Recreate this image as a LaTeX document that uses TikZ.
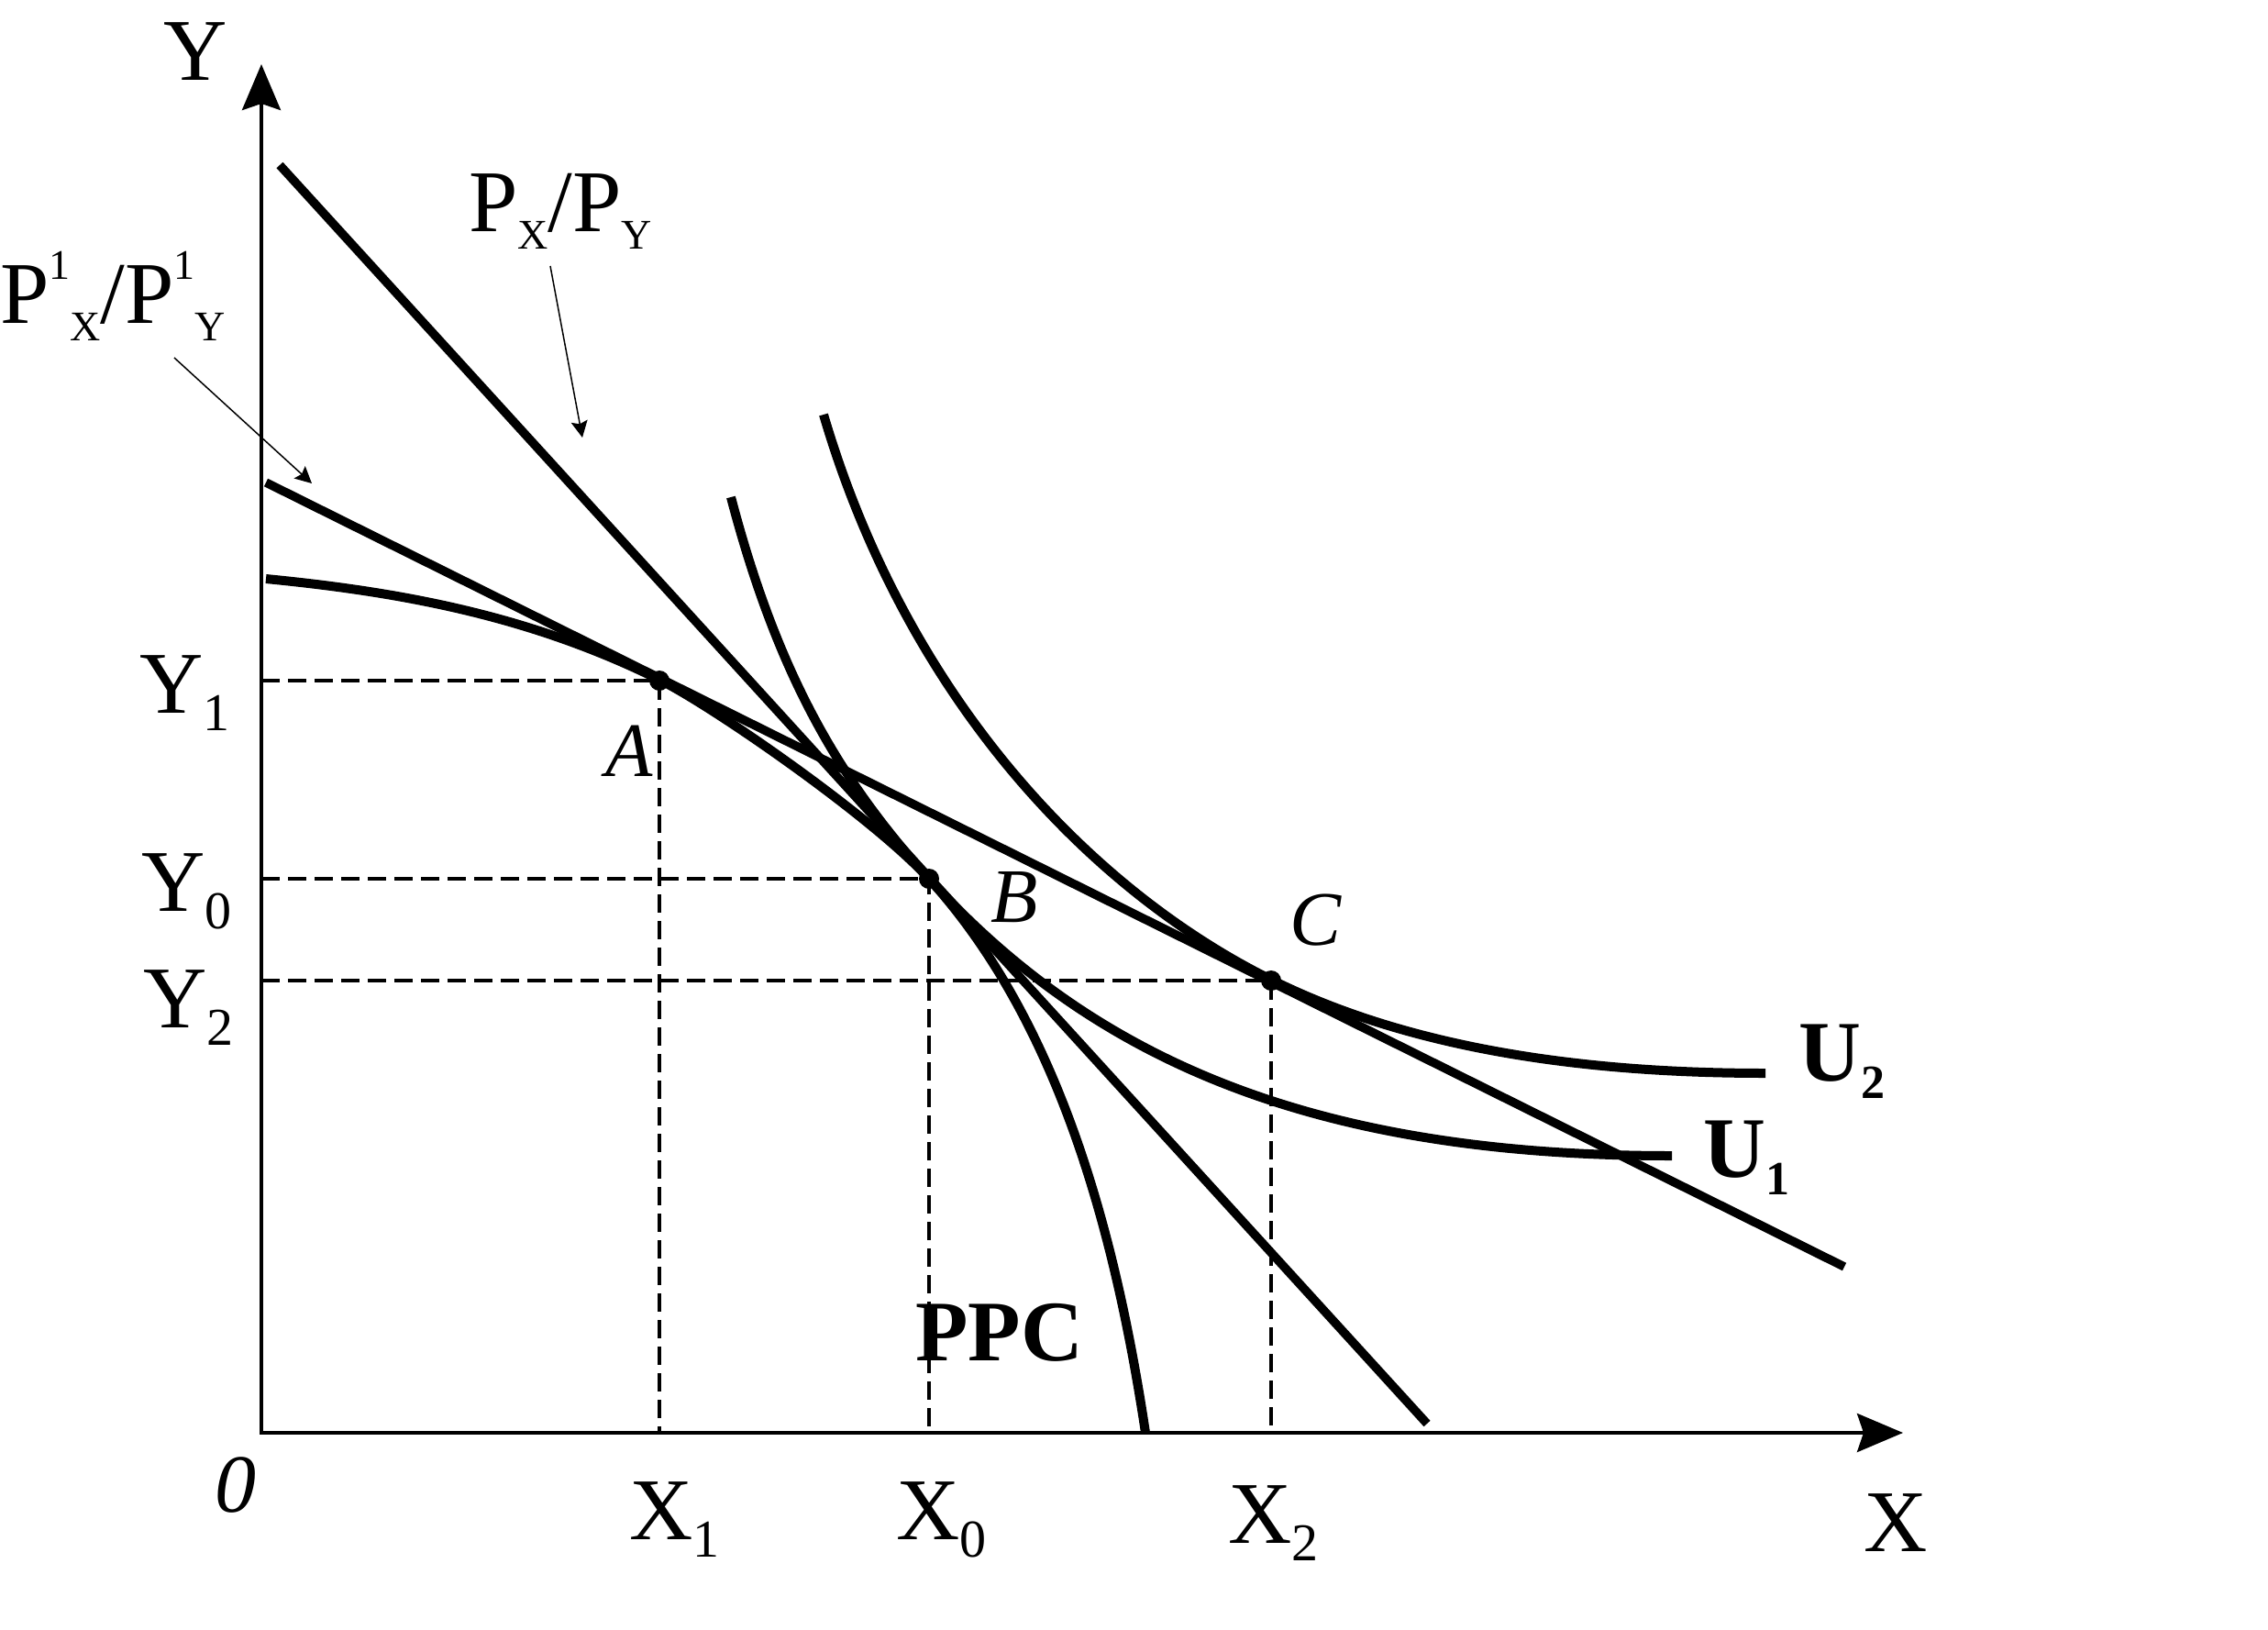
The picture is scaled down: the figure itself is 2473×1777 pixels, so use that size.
\documentclass[tikz,border=0pt]{standalone}
\usepackage{fontspec}
\setmainfont{Liberation Serif}
\usetikzlibrary{arrows.meta}
\newcommand\lsub[2][58]{\raisebox{-19pt}{\fontsize{#1}{#1}\selectfont #2}}
\newcommand\lsup[2][46]{\raisebox{48pt}{\fontsize{#1}{#1}\selectfont #2}}
\begin{document}
\begin{tikzpicture}[x=1pt,y=-1pt,
  curve/.style={line width=10pt},
  budget/.style={line width=9.5pt},
  dashline/.style={line width=4.5pt, dash pattern=on 20pt off 9pt},
  axisline/.style={line width=4pt, {Stealth[length=50pt,width=42pt,inset=7pt]}-{Stealth[length=50pt,width=42pt,inset=7pt]}},
  leader/.style={line width=1.5pt, -{Stealth[length=18pt,width=18pt,inset=3pt]}},
  dot/.style={circle, fill=black, inner sep=0pt, minimum size=22pt},
  lab/.style={inner sep=0pt, font=\fontsize{96}{96}\selectfont},
  blab/.style={inner sep=0pt, font=\fontsize{94}{94}\selectfont\bfseries},
  ilab/.style={inner sep=0pt, font=\fontsize{84}{84}\selectfont\itshape}]
\useasboundingbox (0,0) rectangle (2473,1777);

% axes
\coordinate (O) at (285,1562);
\coordinate (Ytip) at (285,70);
\coordinate (Xtip) at (2075,1562);
\draw[axisline] (Ytip) -- (O) -- (Xtip);

% points
\node[dot] (A) at (719,742) {};
\node[dot] (B) at (1013,958) {};
\node[dot] (C) at (1386,1069) {};

% dashed guides
\draw[dashline] (A -| O) -- (A.center) -- (A |- O);
\draw[dashline] (B -| O) -- (B.center) -- (B |- O);
\draw[dashline] (C -| O) -- (C.center) -- ([yshift=5pt]C |- O);

% budget lines
\coordinate (L1s) at (305,180);
\coordinate (L1e) at (1556,1552);
\coordinate (L2s) at (290,526);
\coordinate (L2e) at (2011,1381);
\draw[budget] (L1s) -- (L1e);
\draw[budget] (L2s) -- (L2e);

% PPC
\draw[curve] (290,631) .. controls (433,645) and (576,670) .. (719,741)
  .. controls (779,771) and (953,892) .. (1013,958)
  .. controls (1143,1101) and (1211.5,1312) .. (1249,1562);

% U1
\draw[curve] (797,542) .. controls (847,732) and (913,848) .. (1013,958)
  .. controls (1188,1150) and (1423,1260) .. (1823,1260);

% U2
\draw[curve] (898,452) .. controls (988,758) and (1186,968.6) .. (1386,1068)
  .. controls (1506,1127.6) and (1675,1170) .. (1925,1170);

% leaders
\coordinate (l1s) at (600,290);
\coordinate (l1e) at (635,477);
\coordinate (l2s) at (190,390);
\coordinate (l2e) at (340,527);
\draw[leader] (l1s) -- (l1e);
\draw[leader] (l2s) -- (l2e);

% labels
\node[lab, anchor=base west] (ly) at (178,88) {Y};
\node[lab, anchor=base west] (lx) at (2032,1691) {X};
\node[inner sep=0pt, font=\fontsize{90}{90}\selectfont\itshape, anchor=base west] (lo) at (234,1648) {0};
\node[lab, anchor=base west] (lx1) at (686,1678) {X\lsub{1}};
\node[lab, anchor=base west] (lx0) at (977,1678) {X\lsub{0}};
\node[lab, anchor=base west] (lx2) at (1339,1682) {X\lsub{2}};
\node[lab, anchor=base west] (ly1) at (152,777) {Y\lsub{1}};
\node[lab, anchor=base west] (ly0) at (154,993) {Y\lsub{0}};
\node[lab, anchor=base west] (ly2) at (156,1120) {Y\lsub{2}};
\node[lab, anchor=base west] (pxpy) at (511,252) {P\lsub[46]{X}/P\lsub[46]{Y}};
\node[lab, anchor=base west] (p1) at (0,352) {P\lsup{1}\lsub[46]{X}/P\lsup{1}\lsub[46]{Y}};
\node[ilab, anchor=base] (la) at (686,846) {A};
\node[ilab, anchor=base] (lb) at (1106,1005) {B};
\node[ilab, anchor=base] (lc) at (1434,1030) {C};
\node[blab, anchor=base west] (ppc) at (998,1483) {PPC};
\node[blab, anchor=base west] (u2) at (1961,1178) {U\lsub[52]{2}};
\node[blab, anchor=base west] (u1) at (1857,1283) {U\lsub[52]{1}};
\end{tikzpicture}
\end{document}
